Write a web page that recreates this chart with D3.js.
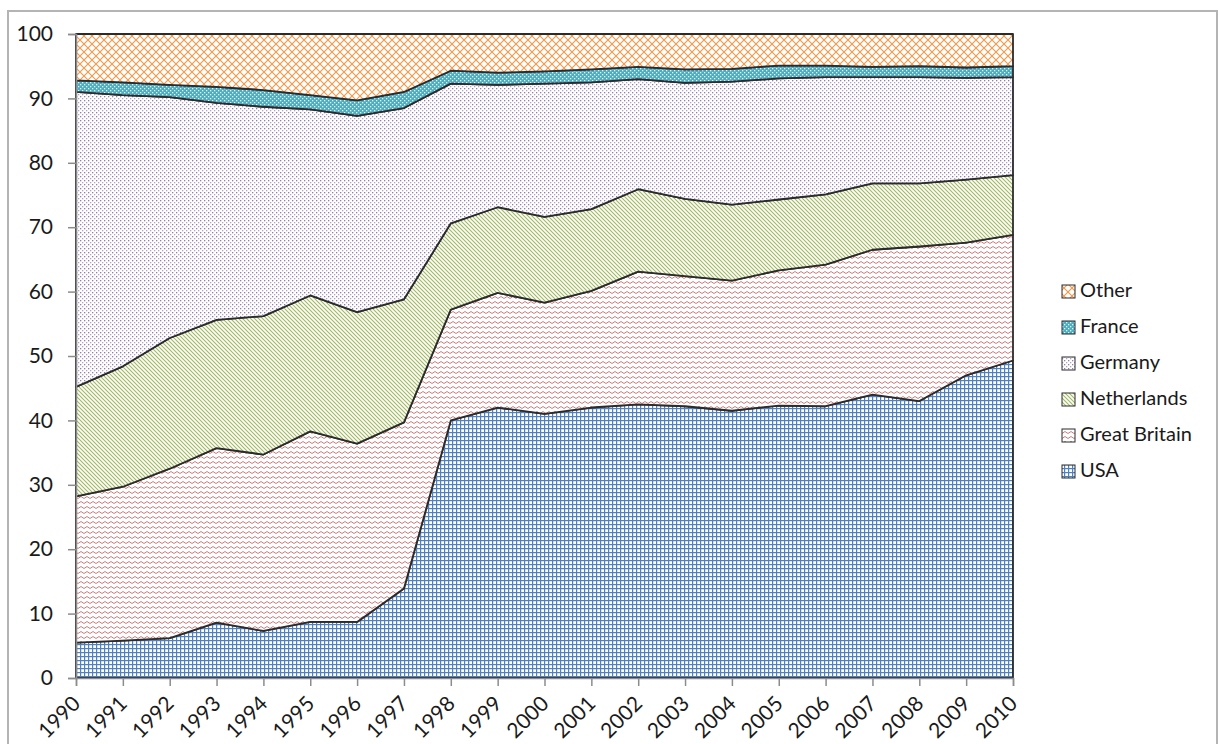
<!DOCTYPE html>
<html>
<head>
<meta charset="utf-8">
<script src="https://cdn.jsdelivr.net/npm/d3@7"></script>
<style>
  body { margin: 0; background: #fff; }
  svg text { font-family: Lato, "Open Sans", sans-serif; fill: #1a1a1a; }
</style>
</head>
<body>
<svg id="chart" width="1219" height="744"></svg>
<script>
// ── Data (share in %) ──
const years = d3.range(1990, 2011);
const seriesNames = ["USA", "Great Britain", "Netherlands", "Germany", "France", "Other"];

const usa         = [5.5, 5.8, 6.2, 8.6, 7.3, 8.7, 8.7, 13.9, 40.0, 42.0, 41.0, 42.0, 42.5, 42.2, 41.5, 42.3, 42.2, 44.0, 43.0, 47.0, 49.3];
const greatBritain = [22.7, 23.9, 26.3, 27.1, 27.4, 29.6, 27.7, 25.8, 17.2, 17.8, 17.3, 18.1, 20.6, 20.2, 20.2, 21.0, 22.0, 22.5, 24.0, 20.6, 19.5];
const netherlands = [17.0, 18.7, 20.3, 19.9, 21.5, 21.1, 20.4, 19.1, 13.4, 13.3, 13.3, 12.7, 12.8, 12.0, 11.8, 11.0, 10.9, 10.3, 9.8, 9.8, 9.3];
const germany     = [45.8, 42.1, 37.4, 33.7, 32.5, 28.9, 30.5, 29.7, 21.7, 19.0, 20.7, 19.7, 17.1, 18.0, 19.1, 18.8, 18.2, 16.5, 16.5, 15.8, 15.2];
const france      = [1.8, 2.0, 1.9, 2.5, 2.6, 2.2, 2.4, 2.5, 2.0, 1.9, 1.9, 2.0, 1.9, 2.1, 2.0, 2.0, 1.8, 1.6, 1.7, 1.6, 1.7];
const other       = [7.2, 7.5, 7.9, 8.2, 8.7, 9.5, 10.3, 9.0, 5.7, 6.0, 5.8, 5.5, 5.1, 5.5, 5.4, 4.9, 4.9, 5.1, 5.0, 5.2, 5.0];

const yTicks = d3.range(0, 101, 10);

const seriesValues = [usa, greatBritain, netherlands, germany, france, other];
const table = years.map((yr, i) => {
  const row = { year: yr };
  seriesNames.forEach((n, k) => row[n] = seriesValues[k][i]);
  return row;
});

// ── Layout ──
const LEFT = 76, RIGHT = 1013, TOP = 34, BOTTOM = 678;
const FONT = "Lato, 'Open Sans', sans-serif";

const svg = d3.select("#chart");

// outer frame
svg.append("rect")
  .attr("x", 8).attr("y", 11).attr("width", 1209).attr("height", 760)
  .attr("fill", "none").attr("stroke", "#b4b4b4").attr("stroke-width", 2);

// ── Patterns ──
const defs = svg.append("defs");

function pat(id, w, h, bg) {
  const p = defs.append("pattern").attr("id", id)
    .attr("patternUnits", "userSpaceOnUse").attr("width", w).attr("height", h);
  p.append("rect").attr("width", w).attr("height", h).attr("fill", bg);
  return p;
}

// USA: blue small grid
let p = pat("p-usa", 4, 4, "#fff");
p.append("rect").attr("x", 0).attr("y", 0).attr("width", 4).attr("height", 1.2).attr("fill", "#4f81bd");
p.append("rect").attr("x", 0).attr("y", 0).attr("width", 1.2).attr("height", 4).attr("fill", "#4f81bd");

// Great Britain: red zigzag
p = pat("p-gb", 6, 5, "#fff");
p.append("path").attr("d", "M0,3.5 L3,1.5 L6,3.5").attr("fill", "none")
  .attr("stroke", "#c0504d").attr("stroke-width", 1).attr("stroke-opacity", 0.75);

// Netherlands: green diagonal lines
p = pat("p-nl", 4, 4, "#fff");
p.append("path").attr("d", "M-1,-1 L5,5 M-1,3 L1,5 M3,-1 L5,1").attr("fill", "none")
  .attr("stroke", "#9bbb59").attr("stroke-width", 1.1);

// Germany: purple dots
p = pat("p-de", 4, 4, "#fff");
p.append("rect").attr("x", 0).attr("y", 0).attr("width", 1.3).attr("height", 1.3).attr("fill", "#8064a2").attr("fill-opacity", 0.85);
p.append("rect").attr("x", 2).attr("y", 2).attr("width", 1.3).attr("height", 1.3).attr("fill", "#8064a2").attr("fill-opacity", 0.6);

// France: teal with white dots
p = pat("p-fr", 4, 4, "#4bacc6");
p.append("rect").attr("x", 0).attr("y", 0).attr("width", 1.3).attr("height", 1.3).attr("fill", "#fff").attr("fill-opacity", 0.85);
p.append("rect").attr("x", 2).attr("y", 2).attr("width", 1.3).attr("height", 1.3).attr("fill", "#fff").attr("fill-opacity", 0.85);

// Other: orange diamond crosshatch
p = pat("p-ot", 8, 8, "#fff");
p.append("path").attr("d", "M0,0 L8,8 M8,0 L0,8").attr("fill", "none")
  .attr("stroke", "#f79646").attr("stroke-width", 1.1);

const fills = {
  "USA": "url(#p-usa)", "Great Britain": "url(#p-gb)", "Netherlands": "url(#p-nl)",
  "Germany": "url(#p-de)", "France": "url(#p-fr)", "Other": "url(#p-ot)"
};

// ── Scales ──
const x = d3.scaleLinear().domain([1990, 2010]).range([LEFT, RIGHT]);
const y = d3.scaleLinear().domain([0, 100]).range([BOTTOM, TOP]);

const stacked = d3.stack().keys(seriesNames)(table);

const area = d3.area()
  .x(d => x(d.data.year))
  .y0(d => y(d[0]))
  .y1(d => y(d[1]));

svg.append("g").selectAll("path")
  .data(stacked)
  .join("path")
  .attr("d", area)
  .attr("fill", d => fills[d.key])
  .attr("stroke", "#2b2b2b")
  .attr("stroke-width", 1.8)
  .attr("stroke-linejoin", "round");

// ── Axes ──
const yAxis = svg.append("g")
  .attr("transform", `translate(${LEFT},0)`)
  .call(d3.axisLeft(y).tickValues(yTicks).tickSize(8).tickPadding(15));
yAxis.select(".domain").attr("stroke", "#8c8c8c").attr("stroke-width", 1.5);
yAxis.selectAll(".tick line").attr("stroke", "#8c8c8c").attr("stroke-width", 1.5);
yAxis.selectAll(".tick text").attr("font-size", "21px").attr("fill", "#1a1a1a")
  .style("font-family", FONT);

const xAxis = svg.append("g")
  .attr("transform", `translate(0,${BOTTOM})`)
  .call(d3.axisBottom(x).tickValues(years).tickFormat(d3.format("d")).tickSize(8));
xAxis.select(".domain").attr("stroke", "#8c8c8c").attr("stroke-width", 1.5);
xAxis.selectAll(".tick line").attr("stroke", "#8c8c8c").attr("stroke-width", 1.5);
xAxis.selectAll(".tick text")
  .attr("font-size", "21px").attr("fill", "#1a1a1a")
  .style("font-family", FONT)
  .attr("text-anchor", "end")
  .attr("dy", 0).attr("y", 0)
  .attr("transform", "translate(5,27) rotate(-45)");

// ── Legend ──
const legend = svg.append("g");
seriesNames.slice().reverse().forEach((name, i) => {
  const ly = 292 + i * 36;
  legend.append("rect")
    .attr("x", 1062).attr("y", ly - 7).attr("width", 13).attr("height", 13)
    .attr("fill", fills[name]).attr("stroke", "#2b2b2b").attr("stroke-width", 1);
  legend.append("text")
    .attr("x", 1080).attr("y", ly)
    .attr("dominant-baseline", "middle")
    .attr("font-size", "20px")
    .text(name);
});
</script>
</body>
</html>
